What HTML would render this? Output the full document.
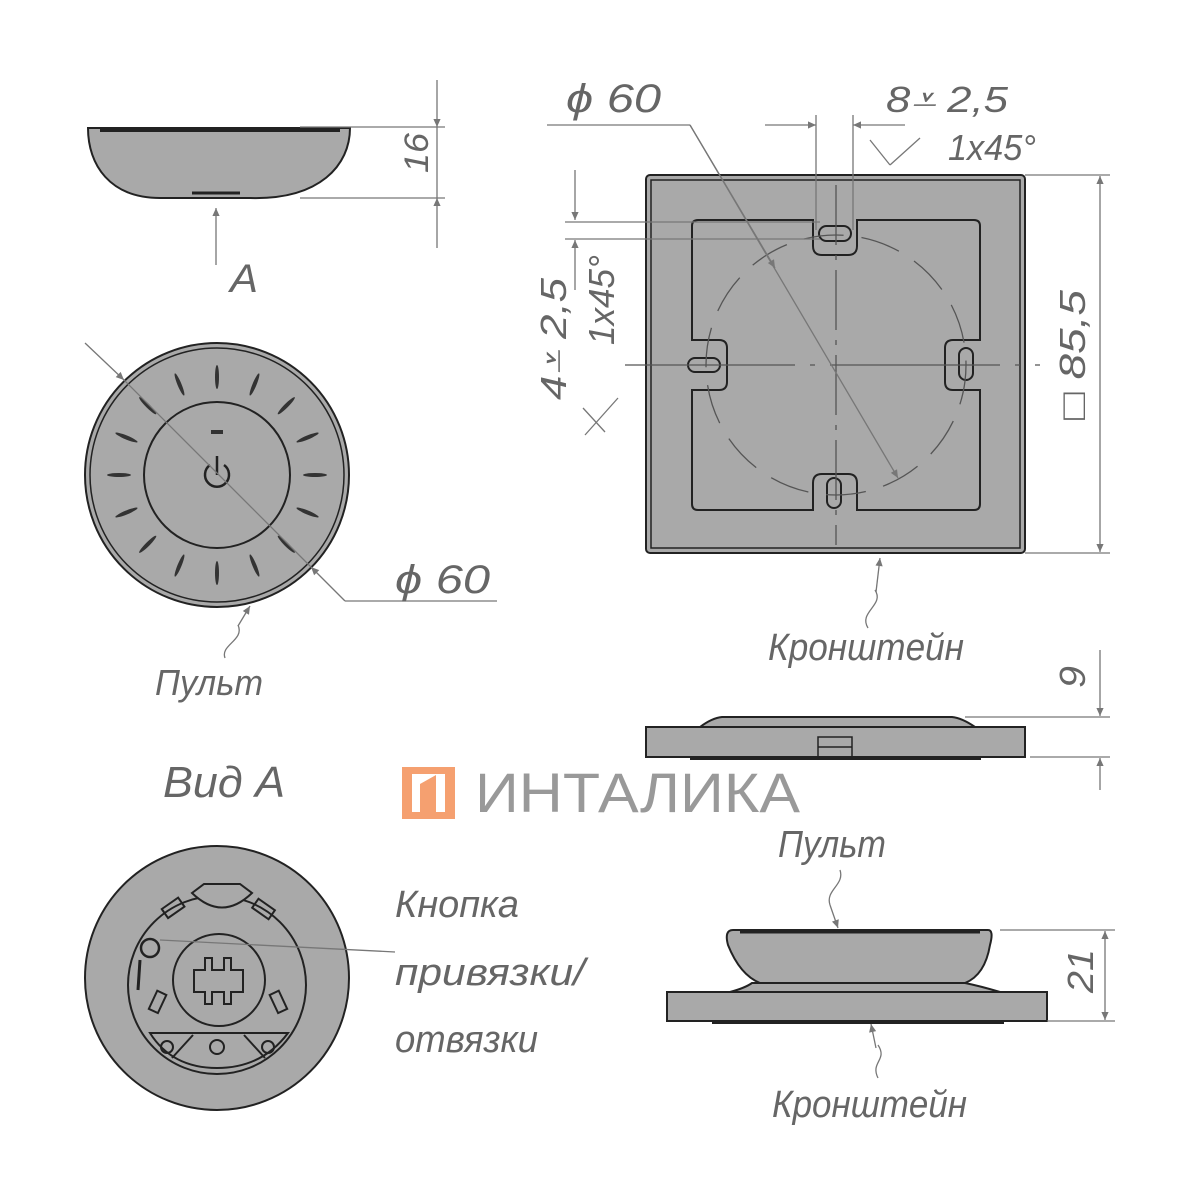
<!DOCTYPE html>
<html><head><meta charset="utf-8"><style>
html,body{margin:0;padding:0;background:#fff;width:1200px;height:1200px;overflow:hidden}
svg{display:block}
.t{font-family:"Liberation Sans",sans-serif;font-style:italic;fill:#666;}
</style></head><body>
<svg width="1200" height="1200" viewBox="0 0 1200 1200" xmlns="http://www.w3.org/2000/svg">
<defs>
<marker id="ar" viewBox="0 0 10 10" refX="10" refY="5" markerWidth="20" markerHeight="8" orient="auto-start-reverse" markerUnits="userSpaceOnUse"><path d="M0,0.5 L10,5 L0,9.5 z" fill="#777"/></marker>
</defs>
<g stroke="#222" stroke-width="2" fill="#a9a9a9">
<!-- top side view -->
<path d="M88,128 L350,128 C350,165 320,200 250,198 L160,198 C110,198 88,165 88,128 Z"/>
<line x1="100" y1="130" x2="340" y2="130" stroke-width="4"/>
<line x1="192" y1="193" x2="240" y2="193" stroke-width="3"/>
<!-- left circle -->
<circle cx="217" cy="475" r="132"/>
<circle cx="217" cy="475" r="127" fill="none" stroke-width="1.5"/>
<circle cx="217" cy="475" r="73" fill="none"/>
<g fill="#333" stroke="none">
<ellipse cx="217" cy="377" rx="2" ry="12"/>
<ellipse cx="217" cy="377" rx="2" ry="12" transform="rotate(22.5 217 475)"/>
<ellipse cx="217" cy="377" rx="2" ry="12" transform="rotate(45 217 475)"/>
<ellipse cx="217" cy="377" rx="2" ry="12" transform="rotate(67.5 217 475)"/>
<ellipse cx="217" cy="377" rx="2" ry="12" transform="rotate(90 217 475)"/>
<ellipse cx="217" cy="377" rx="2" ry="12" transform="rotate(112.5 217 475)"/>
<ellipse cx="217" cy="377" rx="2" ry="12" transform="rotate(135 217 475)"/>
<ellipse cx="217" cy="377" rx="2" ry="12" transform="rotate(157.5 217 475)"/>
<ellipse cx="217" cy="377" rx="2" ry="12" transform="rotate(180 217 475)"/>
<ellipse cx="217" cy="377" rx="2" ry="12" transform="rotate(202.5 217 475)"/>
<ellipse cx="217" cy="377" rx="2" ry="12" transform="rotate(225 217 475)"/>
<ellipse cx="217" cy="377" rx="2" ry="12" transform="rotate(247.5 217 475)"/>
<ellipse cx="217" cy="377" rx="2" ry="12" transform="rotate(270 217 475)"/>
<ellipse cx="217" cy="377" rx="2" ry="12" transform="rotate(292.5 217 475)"/>
<ellipse cx="217" cy="377" rx="2" ry="12" transform="rotate(315 217 475)"/>
<ellipse cx="217" cy="377" rx="2" ry="12" transform="rotate(337.5 217 475)"/>
<rect x="211" y="430" width="12" height="4"/>
</g>
<path d="M210,465 A12,12 0 1 0 224,465" fill="none" stroke-width="2.5"/>
<line x1="217" y1="456" x2="217" y2="475" stroke-width="2.5"/>
<!-- square -->
<rect x="646" y="175" width="379" height="378" rx="4"/>
<rect x="651" y="180" width="369" height="368" fill="none" stroke-width="1.5"/>
<path d="M698,220 L813,220 L813,246 Q813,255 822,255 L848,255 Q857,255 857,246 L857,220 L974,220 Q980,220 980,226 L980,340 L953,340 Q945,340 945,348 L945,382 Q945,390 953,390 L980,390 L980,504 Q980,510 974,510 L857,510 L857,483 Q857,474 848,474 L822,474 Q813,474 813,483 L813,510 L698,510 Q692,510 692,504 L692,390 L719,390 Q727,390 727,382 L727,348 Q727,340 719,340 L692,340 L692,226 Q692,220 698,220 Z" fill="none"/>
<rect x="819" y="226" width="32" height="15" rx="7.5" fill="none"/>
<rect x="827" y="478" width="14" height="30" rx="7" fill="none"/>
<rect x="688" y="358" width="32" height="14" rx="7" fill="none"/>
<rect x="959" y="348" width="14" height="32" rx="7" fill="none"/>
<!-- side view 1 -->
<path d="M700,727 Q712,718 722,717 L952,717 Q962,718 975,727 Z"/>
<rect x="646" y="727" width="379" height="30"/>
<rect x="691" y="757" width="289" height="2" fill="#222"/>
<rect x="818" y="737" width="34" height="20" fill="none" stroke-width="1.5"/>
<line x1="818" y1="747" x2="852" y2="747" stroke-width="1.5"/>
<!-- side view 2 -->
<path d="M730,992 Q745,988 752,983 L965,983 Q980,986 1000,992 Z"/>
<path d="M733,930 L988,930 Q994,930 990,945 Q985,975 965,983 L760,983 Q740,975 728,945 Q724,930 733,930 Z"/>
<line x1="740" y1="932" x2="980" y2="932" stroke-width="3"/>
<rect x="667" y="992" width="380" height="29"/>
<rect x="713" y="1021" width="290" height="2" fill="#222"/>
<!-- bottom left circle -->
<circle cx="217" cy="978" r="132"/>
<circle cx="217" cy="985" r="89" fill="none"/>
<circle cx="219" cy="980" r="46" fill="none"/>
<path d="M192,893 L204,884 L240,884 L252,893 Q222,922 192,893 Z" fill="#a9a9a9"/>
<path d="M150,1033 L288,1033 Q262,1068 217,1068 Q172,1068 150,1033 Z" fill="none"/>
<line x1="193" y1="1035" x2="172" y2="1058"/><line x1="244" y1="1035" x2="265" y2="1058"/>
<circle cx="167" cy="1047" r="6" fill="none"/><circle cx="217" cy="1047" r="7" fill="none"/><circle cx="268" cy="1047" r="6" fill="none"/>
<circle cx="150" cy="948" r="9" fill="none" stroke-width="2.5"/>
<line x1="140" y1="960" x2="138" y2="990" stroke-width="3"/>
<path d="M194,970 L205,970 L205,958 L212,958 L212,970 L224,970 L224,958 L231,958 L231,970 L243,970 L243,992 L231,992 L231,1004 L224,1004 L224,992 L212,992 L212,1004 L205,1004 L205,992 L194,992 Z" fill="none"/>
<rect x="163" y="903" width="20" height="11" transform="rotate(-35 172 908)" fill="none"/>
<rect x="254" y="903" width="20" height="11" transform="rotate(35 263 908)" fill="none"/>
<rect x="153" y="992" width="10" height="20" transform="rotate(25 158 1001)" fill="none"/>
<rect x="273" y="992" width="10" height="20" transform="rotate(-25 278 1001)" fill="none"/>
</g>
<g stroke="#555" stroke-width="1.3" fill="none">
<circle cx="836" cy="365" r="130" stroke-dasharray="40 18"/>
<line x1="836" y1="185" x2="836" y2="545" stroke-dasharray="60 10 5 10"/>
<line x1="625" y1="365" x2="1040" y2="365" stroke-dasharray="170 15 5 15"/>
</g>
<g stroke="#777" stroke-width="1.3" fill="none">
<line x1="300" y1="127" x2="445" y2="127"/><line x1="300" y1="198" x2="445" y2="198"/>
<line x1="437" y1="80" x2="437" y2="127" marker-end="url(#ar)"/>
<line x1="437" y1="248" x2="437" y2="198" marker-end="url(#ar)"/>
<line x1="437" y1="127" x2="437" y2="198"/>
<line x1="216" y1="265" x2="216" y2="208" marker-end="url(#ar)"/>
<line x1="85" y1="343" x2="124" y2="380" marker-end="url(#ar)"/>
<line x1="124" y1="380" x2="311" y2="567"/>
<line x1="345" y1="601" x2="311" y2="567" marker-end="url(#ar)"/>
<line x1="345" y1="601" x2="497" y2="601"/>
<path d="M225,658 C220,645 245,640 238,625" /><line x1="238" y1="626" x2="250" y2="606" marker-end="url(#ar)"/>
<line x1="547" y1="125" x2="690" y2="125"/>
<line x1="690" y1="125" x2="898" y2="478" marker-end="url(#ar)"/>
<line x1="775" y1="268" x2="690" y2="125" marker-start="url(#ar)"/>
<line x1="765" y1="125" x2="816" y2="125" marker-end="url(#ar)"/>
<line x1="905" y1="125" x2="853" y2="125" marker-end="url(#ar)"/>
<line x1="816" y1="115" x2="816" y2="230"/><line x1="853" y1="115" x2="853" y2="230"/>
<line x1="870" y1="140" x2="890" y2="165"/><line x1="890" y1="165" x2="920" y2="138"/>
<line x1="575" y1="170" x2="575" y2="220" marker-end="url(#ar)"/>
<line x1="575" y1="290" x2="575" y2="240" marker-end="url(#ar)"/>
<line x1="565" y1="222" x2="820" y2="222"/><line x1="565" y1="239" x2="820" y2="239"/>
<line x1="583" y1="408" x2="605" y2="432"/><line x1="585" y1="435" x2="618" y2="398"/>
<line x1="1025" y1="175" x2="1110" y2="175"/><line x1="1025" y1="553" x2="1110" y2="553"/>
<line x1="1100" y1="270" x2="1100" y2="176" marker-end="url(#ar)"/>
<line x1="1100" y1="460" x2="1100" y2="552" marker-end="url(#ar)"/>
<line x1="1100" y1="270" x2="1100" y2="460"/>
<path d="M868,628 C858,612 885,605 875,590"/><line x1="876" y1="592" x2="880" y2="558" marker-end="url(#ar)"/>
<line x1="965" y1="717" x2="1110" y2="717"/><line x1="1030" y1="757" x2="1110" y2="757"/>
<line x1="1100" y1="650" x2="1100" y2="716" marker-end="url(#ar)"/>
<line x1="1100" y1="790" x2="1100" y2="758" marker-end="url(#ar)"/>
<line x1="1000" y1="930" x2="1115" y2="930"/><line x1="1047" y1="1021" x2="1115" y2="1021"/>
<line x1="1105" y1="960" x2="1105" y2="931" marker-end="url(#ar)"/>
<line x1="1105" y1="990" x2="1105" y2="1020" marker-end="url(#ar)"/>
<line x1="1105" y1="960" x2="1105" y2="990"/>
<path d="M840,870 C845,885 825,890 830,905"/><line x1="830" y1="905" x2="838" y2="928" marker-end="url(#ar)"/>
<path d="M878,1078 C870,1062 888,1060 878,1045"/><line x1="876" y1="1048" x2="871" y2="1024" marker-end="url(#ar)"/>
<line x1="160" y1="940" x2="395" y2="952"/>
</g>
<!-- logo -->
<g fill="#f5a070">
<rect x="402" y="767" width="10" height="52"/><rect x="445" y="767" width="10" height="52"/>
<rect x="402" y="767" width="53" height="7"/><rect x="402" y="812" width="53" height="7"/>
<path d="M420,784 L436,775 L436,819 L420,819 Z"/>
</g>
<text x="475" y="812" style="font-family:'Liberation Sans',sans-serif;font-size:56px;fill:#999" textLength="325" lengthAdjust="spacingAndGlyphs">ИНТАЛИКА</text>
<g class="t">
<g transform="translate(428,173) rotate(-90)"><text x="0" y="0" font-size="34" textLength="40" lengthAdjust="spacingAndGlyphs">16</text></g>
<text x="230" y="292" font-size="40" textLength="28" lengthAdjust="spacingAndGlyphs">А</text>
<text x="395" y="593" font-size="40" textLength="95" lengthAdjust="spacingAndGlyphs">ϕ 60</text>
<text x="155" y="695" font-size="36" textLength="108" lengthAdjust="spacingAndGlyphs">Пульт</text>
<text x="163" y="797" font-size="44" textLength="122" lengthAdjust="spacingAndGlyphs">Вид А</text>
<text x="566" y="112" font-size="40" textLength="95" lengthAdjust="spacingAndGlyphs">ϕ 60</text>
<text x="886" y="112" font-size="36" textLength="122" lengthAdjust="spacingAndGlyphs">8⩡ 2,5</text>
<text x="948" y="160" font-size="36" textLength="88" lengthAdjust="spacingAndGlyphs">1x45°</text>
<g transform="translate(566,400) rotate(-90)"><text x="0" y="0" font-size="36" textLength="122" lengthAdjust="spacingAndGlyphs">4⩡ 2,5</text></g>
<g transform="translate(614,345) rotate(-90)"><text x="0" y="0" font-size="36" textLength="90" lengthAdjust="spacingAndGlyphs">1x45°</text></g>
<g transform="translate(1085,420) rotate(-90)"><text x="0" y="0" font-size="36" textLength="130" lengthAdjust="spacingAndGlyphs">□ 85,5</text></g>
<text x="768" y="660" font-size="38" textLength="196" lengthAdjust="spacingAndGlyphs">Кронштейн</text>
<g transform="translate(1085,688) rotate(-90)"><text x="0" y="0" font-size="36" textLength="22" lengthAdjust="spacingAndGlyphs">9</text></g>
<text x="778" y="857" font-size="38" textLength="108" lengthAdjust="spacingAndGlyphs">Пульт</text>
<g transform="translate(1093,993) rotate(-90)"><text x="0" y="0" font-size="36" textLength="44" lengthAdjust="spacingAndGlyphs">21</text></g>
<text x="772" y="1117" font-size="38" textLength="195" lengthAdjust="spacingAndGlyphs">Кронштейн</text>
<text x="395" y="917" font-size="38" textLength="124" lengthAdjust="spacingAndGlyphs">Кнопка</text>
<text x="395" y="985" font-size="38" textLength="190" lengthAdjust="spacingAndGlyphs">привязки/</text>
<text x="395" y="1052" font-size="38" textLength="143" lengthAdjust="spacingAndGlyphs">отвязки</text>
</g>
</svg>
</body></html>
